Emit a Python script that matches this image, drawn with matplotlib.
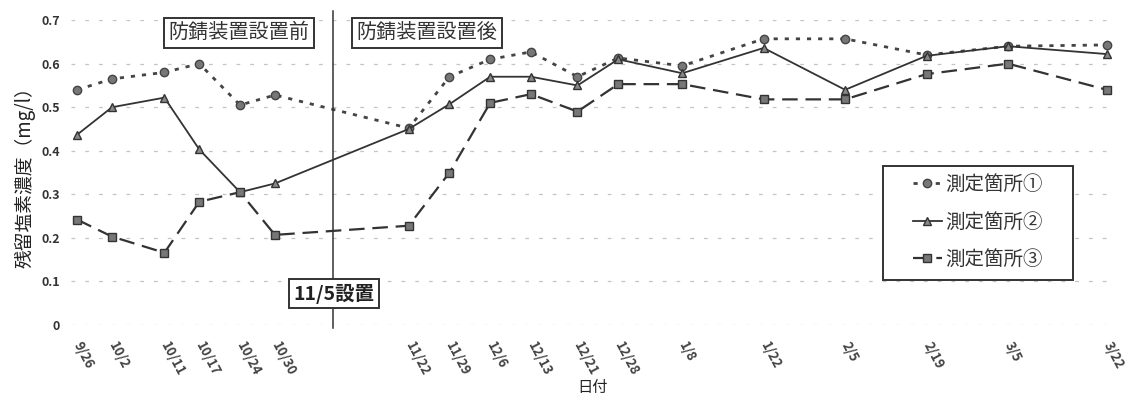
import matplotlib
matplotlib.use("Agg")
import matplotlib.pyplot as plt
from matplotlib.patches import Rectangle
import pandas as pd

plt.rcParams['font.family'] = ['Noto Sans CJK JP', 'DejaVu Sans']

dates = pd.to_datetime([
    "2010-09-26", "2010-10-02", "2010-10-11", "2010-10-17", "2010-10-24", "2010-10-30",
    "2010-11-22", "2010-11-29", "2010-12-06", "2010-12-13", "2010-12-21", "2010-12-28",
    "2011-01-08", "2011-01-22", "2011-02-05", "2011-02-19", "2011-03-05", "2011-03-22",
])
site1 = [0.54, 0.565, 0.58, 0.60, 0.505, 0.528, 0.452, 0.57, 0.61, 0.627, 0.57, 0.613,
         0.595, 0.657, 0.657, 0.62, 0.64, 0.643]
site2 = [0.437, 0.50, 0.522, 0.403, 0.305, 0.325, 0.45, 0.507, 0.57, 0.57, 0.55, 0.61,
         0.578, 0.636, 0.54, 0.618, 0.64, 0.622]
site3 = [0.242, 0.203, 0.166, 0.283, 0.305, 0.207, 0.228, 0.35, 0.51, 0.53, 0.49, 0.553,
         0.553, 0.518, 0.518, 0.576, 0.60, 0.54]
series_names = ["測定箇所①", "測定箇所②", "測定箇所③"]
install_line = pd.Timestamp("2010-11-09")  # line is drawn a bit right of 11/5 in the source

fig = plt.figure(figsize=(11.32, 3.94), dpi=100)
ax = fig.add_axes([0.063, 0.175, 0.921, 0.774])

ax.plot(dates, site1, linestyle=(0, (1.5, 2.5)), lw=2.0, color="#444444",
        marker="o", ms=6, mfc="#777777", mec="#444444", label=series_names[0])
ax.plot(dates, site2, linestyle="-", lw=1.3, color="#333333",
        marker="^", ms=6, mfc="#888888", mec="#333333", label=series_names[1])
ax.plot(dates, site3, linestyle=(0, (7, 3.5)), lw=1.6, color="#333333",
        marker="s", ms=5.5, mfc="#777777", mec="#333333", label=series_names[2])

ax.set_ylim(0, 0.7)
ax.set_xlim(dates[0] - pd.Timedelta(days=1), dates[-1] + pd.Timedelta(days=1.2))
ax.set_yticks([0, 0.1, 0.2, 0.3, 0.4, 0.5, 0.6, 0.7])
ax.set_yticklabels(["0", "0.1", "0.2", "0.3", "0.4", "0.5", "0.6", "0.7"],
                   fontsize=9, fontweight="bold", color="#333333")
ax.set_xticks(dates)
ax.set_xticklabels([f"{d.month}/{d.day}" for d in dates], fontsize=9.5,
                   fontweight="bold", color="#444444")
for lab in ax.get_xticklabels():
    lab.set_rotation(-62)
    lab.set_rotation_mode("anchor")
    lab.set_ha("left")
    lab.set_va("center")
ax.tick_params(axis="both", length=0, pad=8)
ax.tick_params(axis="x", pad=13)

for s in ax.spines.values():
    s.set_visible(False)
ax.yaxis.grid(True, linestyle=(0, (3, 8)), color="#c4c4c4", lw=0.9)
ax.set_axisbelow(True)

ax.set_ylabel("残留塩素濃度（mg/l）", fontsize=13.5, labelpad=4, color="#222222")
ax.set_xlabel("日付", fontsize=11, labelpad=0, color="#222222")

ax.axvline(install_line, ymin=-0.01, ymax=1.03, color="#333333", lw=1.1, clip_on=False)

box = dict(boxstyle="square,pad=0.22", fc="white", ec="#333333", lw=1.4)
ax.text(0.1605, 0.958, "防錆装置設置前", transform=ax.transAxes, fontsize=14.5,
        ha="center", va="center", bbox=box, color="#333333")
ax.text(0.341, 0.958, "防錆装置設置後", transform=ax.transAxes, fontsize=14.5,
        ha="center", va="center", bbox=box, color="#333333")
ax.text(0.252, 0.103, "11/5設置", transform=ax.transAxes, fontsize=14,
        fontweight="bold", ha="center", va="center", bbox=box, color="#222222")

# legend frame drawn separately so it can be wider than the entries
ax.add_patch(Rectangle((0.7785, 0.1475), 0.182, 0.374, transform=ax.transAxes,
                       fc="white", ec="#333333", lw=1.4, zorder=4))
leg = ax.legend(loc="center", bbox_to_anchor=(0.8696, 0.338), fontsize=14,
                frameon=False, handlelength=1.5, handletextpad=0.2,
                labelspacing=0.85, borderpad=0)
leg.set_zorder(5)
for t in leg.get_texts():
    t.set_color("#333333")

fig.savefig("out.png", dpi=100)
